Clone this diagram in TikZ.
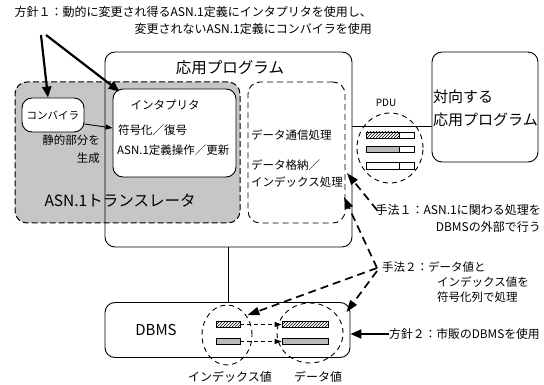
\documentclass[tikz,border=0pt]{standalone}
\usepackage{fontspec}
\setmainfont{Noto Sans CJK JP}
\usetikzlibrary{arrows.meta,patterns,shapes.geometric,calc}
\newcommand\myfL{\fontsize{15.5}{18}\selectfont}
\newcommand\myfM{\fontsize{11.5}{17}\selectfont}
\newcommand\myfS{\fontsize{10}{12}\selectfont}
\begin{document}
\begin{tikzpicture}[x=1pt,y=-1pt,
  box/.style={draw,line width=0.9pt,rounded corners=10pt,inner sep=0pt},
  dbox/.style={draw,line width=0.9pt,dash pattern=on 6pt off 4pt,rounded corners=12pt,inner sep=0pt},
  tbox/.style={draw,line width=1pt,dash pattern=on 6pt off 3pt,rounded corners=12pt,inner sep=0pt,fill=gray!45},
  ring/.style={ellipse,draw,line width=0.9pt,dash pattern=on 5pt off 4pt,inner sep=0pt},
  lbl/.style={inner sep=0pt,font=\myfM},
  big/.style={inner sep=0pt,font=\myfL},
  bar/.style={draw,line width=0.8pt,inner sep=0pt,minimum height=6pt},
  hatch/.style={pattern=north east lines},
  dotted fill/.style={fill=gray!55},
  thickarr/.style={line width=2.2pt,-{Triangle[length=11pt,width=9pt]}},
  thinarr/.style={line width=0.9pt,-{Triangle[length=7pt,width=5pt]}},
  dasharr/.style={line width=1.7pt,dash pattern=on 8pt off 5pt,-{Triangle[length=12pt,width=8pt]}},
  smalldash/.style={line width=0.9pt,dash pattern=on 4pt off 3pt,-{Triangle[length=7pt,width=5pt]}},
  conn/.style={line width=0.9pt}
]
\useasboundingbox (0,0) rectangle (544,385);

% boxes
\node[tbox, minimum width=225, minimum height=141] (trans) at (127.5,152.5) {};
\node[box, minimum width=247, minimum height=195] (app) at (228.5,149.5) {};
\node[box, fill=white, minimum width=123, minimum height=88] (interp) at (174.5,133) {};
\node[box, fill=white, minimum width=62, minimum height=34, font=\fontsize{10.5}{12}\selectfont] (comp) at (53,115) {コンバイラ};
\node[dbox, minimum width=97, minimum height=141] (dproc) at (296.5,152.5) {};
\node[box, minimum width=106, minimum height=110] (peer) at (485,107) {};
\node[box, minimum width=245, minimum height=55] (dbms) at (227.5,330) {};

% circles
\node[ring, minimum width=66, minimum height=70] (pdu) at (390,148) {};
\node[ring, minimum width=50, minimum height=60] (idx) at (227,335) {};
\node[ring, minimum width=66, minimum height=60] (dat) at (310,333) {};

% texts
\node[big] (apptitle) at (230,68) {応用プログラム};
\node[big, anchor=west, align=left, font=\fontsize{15}{23}\selectfont] (peertext) at (433,108.5) {対向する\\応用プログラム};
\node[big] (transtitle) at (120,201) {ASN.1トランスレータ};
\node[lbl, anchor=east, align=right, font=\fontsize{11.5}{18}\selectfont] (static) at (100,149) {静的部分を\\生成};
\node[lbl] (interptitle) at (165,105) {インタプリタ};
\node[lbl, anchor=west] (codec) at (118,130) {符号化／復号};
\node[lbl, anchor=west] (asnop) at (117,150) {ASN.1定義操作／更新};
\node[lbl, anchor=west] (comm) at (251,135) {データ通信処理};
\node[lbl, anchor=west, align=left] (store) at (251,174) {データ格納／\\インデックス処理};
\node[inner sep=0pt, font=\myfS] (pdulbl) at (386,103) {PDU};
\node[lbl, anchor=east, align=right, font=\fontsize{12}{17}\selectfont] (pol1) at (372,20.5) {方針１：動的に変更され得るASN.1定義にインタプリタを使用し、\\変更されないASN.1定義にコンバイラを使用};
\node[lbl, anchor=east, align=right, font=\fontsize{12}{17}\selectfont] (tech1) at (541,218.5) {手法１：ASN.1に関わる処理を\\DBMSの外部で行う};
\node[lbl, anchor=west, align=left, font=\fontsize{11.5}{15}\selectfont] (tech2) at (382,282) {手法２：データ値と\\\hspace*{55pt}インデックス値を\\\hspace*{55pt}符号化列で処理};
\node[lbl, anchor=west, font=\fontsize{11.8}{14}\selectfont] (pol2) at (389,334) {方針２：市販のDBMSを使用};
\node[big, font=\fontsize{15}{18}\selectfont] (dbmslbl) at (156,330) {DBMS};
\node[lbl, font=\fontsize{12}{14}\selectfont] (idxlbl) at (230,377) {インデックス値};
\node[lbl, font=\fontsize{12}{14}\selectfont] (datlbl) at (318,377) {データ値};

% PDU bars
\fill[hatch] (366,132) rectangle (399,138);
\draw[line width=0.8pt] (366,132) rectangle (414,138) (399,132) -- (399,138);
\fill[dotted fill] (366,146) rectangle (399,152);
\draw[line width=0.8pt] (366,146) rectangle (414,152) (399,146) -- (399,152);
\draw[line width=0.8pt] (366,162) rectangle (414,169) (399,162) -- (399,169);

% DBMS bars
\node[bar, hatch, minimum width=24] (ib1) at (228,324.5) {};
\node[bar, dotted fill, minimum width=24] (ib2) at (228,341.5) {};
\node[bar, hatch, minimum width=46] (db1) at (305,324.5) {};
\node[bar, dotted fill, minimum width=46] (db2) at (305,341.5) {};
\draw[smalldash] (ib1.east) -- (db1.west);
\draw[smalldash] (ib2.east) -- (db2.west);

% connectors
\coordinate (pline) at (0,126);
\draw[conn] (app.east |- pline) -- (peer.west |- pline);
\draw[conn] (app.south) -- (app.south |- dbms.north);

\coordinate (p1a) at (41,35);
\coordinate (p1b) at (46,35);
\draw[thickarr] (p1a) -- ([xshift=-5pt]comp.north);
\draw[thickarr] (p1b) -- ([xshift=7pt,yshift=-3pt]interp.north west);
\draw[thinarr] ([yshift=-9pt]comp.east) -- ([yshift=5pt]interp.west);

\coordinate (t1) at (377,210);
\coordinate (t2) at (377,268);
\coordinate (d1) at (347,173);
\coordinate (d2) at (344,197);
\draw[dasharr] (t1) -- (d1);
\draw[dasharr] (t2) -- (d2);
\draw[dasharr] (t2) -- ([xshift=7pt,yshift=6pt]ib1.north east);
\draw[dasharr] ([yshift=-3pt]t2) -- ([xshift=-4pt,yshift=-10pt]dbms.north east);
\draw[thickarr] (pol2.west) -- (pol2.west -| dbms.east);
\end{tikzpicture}
\end{document}
